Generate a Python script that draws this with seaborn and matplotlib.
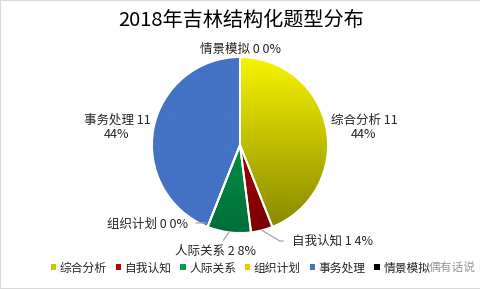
import numpy as np
import pandas as pd
import seaborn as sns
import matplotlib
matplotlib.use('Agg')
import matplotlib.pyplot as plt
from matplotlib.colors import LinearSegmentedColormap
from matplotlib.patches import Patch, Rectangle

# ---- data ----
categories = ['综合分析', '自我认知', '人际关系', '组织计划', '事务处理', '情景模拟']
counts = [11, 1, 2, 0, 11, 0]
percents = ['44%', '4%', '8%', '0%', '44%', '0%']
title = '2018年吉林结构化题型分布'
watermark = '偶有话说'

df = pd.DataFrame({'category': categories, 'count': counts, 'pct': percents})

sns.set_theme(style='white')
plt.rcParams['font.family'] = ['Noto Sans CJK SC', 'DejaVu Sans']

top_colors = ['#F7F400', '#D00000', '#00B050', '#FFC000', '#4472C4', '#000000']
bottom_colors = ['#858500', '#780000', '#006E38', '#C09000', '#4472C4', '#000000']
legend_colors = ['#C8C800', '#C00000', '#00A050', '#FFC000', '#4472C4', '#000000']

W, H = 481, 289
fig = plt.figure(figsize=(W / 100, H / 100), dpi=100)
ax = fig.add_axes([0, 0, 1, 1])

cx, cy, R = 240, 144, 88
wedges, _ = ax.pie(df['count'], startangle=90, counterclock=False,
                   center=(cx, cy), radius=R, frame=True,
                   wedgeprops=dict(edgecolor='white', linewidth=1.4))

grad = np.linspace(0, 1, 256).reshape(-1, 1)
for w, tc, bc in zip(wedges, top_colors, bottom_colors):
    cmap = LinearSegmentedColormap.from_list('g', [bc, tc])
    im = ax.imshow(grad, cmap=cmap, extent=[cx - R, cx + R, cy - R, cy + R],
                   origin='lower', aspect='auto', zorder=1)
    im.set_clip_path(w)
    w.set_facecolor('none')
    w.set_zorder(2)

ax.set_xlim(0, W)
ax.set_ylim(0, H)
ax.set_aspect('auto')
ax.axis('off')

# title
ax.text(241, H - 20, title, ha='center', va='center', fontsize=14.5, color='#000000')

lab_color = '#262626'
line_color = '#A6A6A6'
fs = 9

def edge_point(w):
    mid = np.deg2rad((w.theta1 + w.theta2) / 2)
    return cx + R * np.cos(mid), cy + R * np.sin(mid)

# 综合分析 (two lines)
ax.text(364, H - 127, f"{categories[0]} {counts[0]}\n{percents[0]}", ha='center', va='center',
        fontsize=fs, color=lab_color, linespacing=1.1)
# 事务处理 (two lines)
ax.text(117, H - 127, f"{categories[4]} {counts[4]}\n{percents[4]}", ha='center', va='center',
        fontsize=fs, color=lab_color, linespacing=1.1)
# 情景模拟
ax.text(241, H - 49, f"{categories[5]} {counts[5]} {percents[5]}", ha='center', va='center',
        fontsize=fs, color=lab_color)

# 自我认知 with elbow leader
ex, ey = edge_point(wedges[1])
ax.annotate(f"{categories[1]} {counts[1]} {percents[1]}", xy=(ex, ey), xytext=(292, H - 241),
            ha='left', va='center', fontsize=fs, color=lab_color,
            arrowprops=dict(arrowstyle='-', color=line_color, lw=0.9, shrinkA=4, shrinkB=0,
                            connectionstyle='angle,angleA=0,angleB=-31,rad=0'))
# 人际关系
ex, ey = edge_point(wedges[2])
ax.annotate(f"{categories[2]} {counts[2]} {percents[2]}", xy=(ex, ey), xytext=(216, H - 251),
            ha='center', va='center', fontsize=fs, color=lab_color,
            arrowprops=dict(arrowstyle='-', color=line_color, lw=0.9, shrinkA=1, shrinkB=0))
# 组织计划
ex, ey = edge_point(wedges[3])
ax.annotate(f"{categories[3]} {counts[3]} {percents[3]}", xy=(ex - 2, ey + 4), xytext=(148, H - 224),
            ha='center', va='center', fontsize=fs, color=lab_color,
            arrowprops=dict(arrowstyle='-', color=line_color, lw=0.9, shrinkA=3, shrinkB=0))

# legend
handles = [Patch(facecolor=c, edgecolor='none') for c in legend_colors]
fig.legend(handles, categories, ncol=6, loc='center', bbox_to_anchor=(0.5, 1 - 268 / H),
           frameon=False, fontsize=8.5, handlelength=0.45, handleheight=0.45,
           handletextpad=0.3, columnspacing=0.75, labelcolor=lab_color,
           borderpad=0, borderaxespad=0)

# watermark
ax.text(452, H - 267, watermark, ha='center', va='center', fontsize=8.5, color='#8C8C8C',
        alpha=0.9, zorder=10)

# figure border
fig.patches.append(Rectangle((0, 0), 1, 1, transform=fig.transFigure, fill=False,
                             edgecolor='#D9D9D9', lw=1.5))

fig.savefig('out.png', dpi=100)
